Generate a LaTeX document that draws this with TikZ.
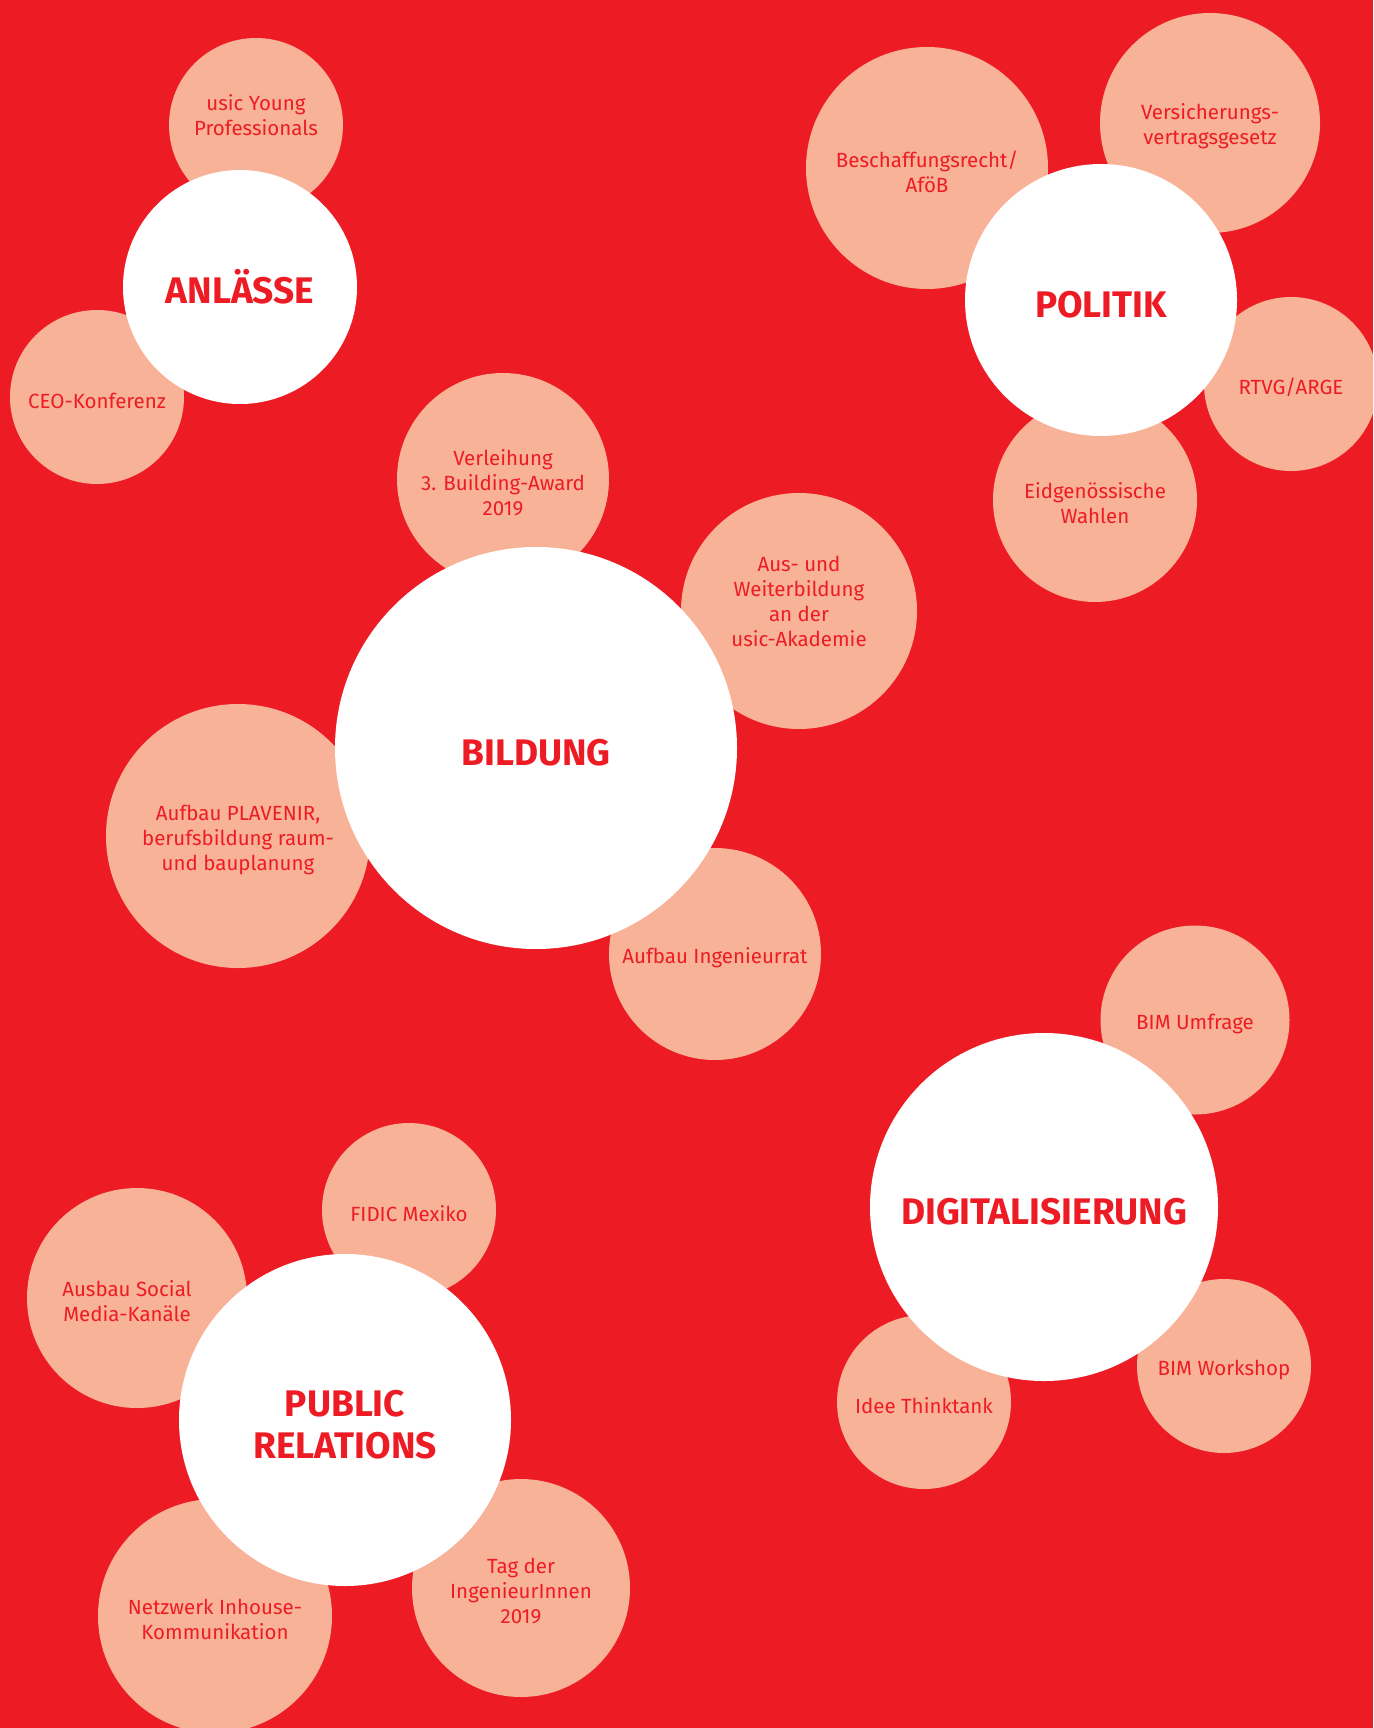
\documentclass[tikz,border=0pt]{standalone}
\usepackage{fontspec}
\setmainfont{Fira Sans}
\usepackage{tikz}
\usetikzlibrary{calc}

\definecolor{usicred}{HTML}{ED1C24}
\definecolor{usicsalmon}{HTML}{F8B298}

\begin{document}
\begin{tikzpicture}[x=1pt, y=-1pt,
        topic_style/.style={circle,fill=white,inner sep=0pt,outer sep=0pt},
        topic_text/.style={text=usicred,align=center,inner sep=0pt,yshift=-5pt,font=\fontsize{37}{42}\selectfont\bfseries},
        item_style/.style={circle,fill=usicsalmon,inner sep=0pt,outer sep=0pt},
        item_text/.style={text=usicred,align=center,inner sep=0pt,yshift=-3.5pt,font=\fontsize{20.5}{25}\selectfont}]

        \useasboundingbox (0,0) rectangle (1373,1728);
        \clip (0,0) rectangle (1373,1728);
        \fill [usicred] (0,0) rectangle (1373,1728);

        % satellites
        \node [item_style, minimum size=174, label={[item_text, yshift=13pt]center:{usic Young\\Professionals}}] (youngpro) at (256,125) {};

        \node [item_style, minimum size=174, label={[item_text]center:{CEO-Konferenz}}] (ceo) at (97,397) {};

        \node [item_style, minimum size=242, label={[item_text]center:{Beschaffungsrecht/\\AföB}}] (afoeb) at (927,168) {};

        \node [item_style, minimum size=220, label={[item_text]center:{Versicherungs-\\vertragsgesetz}}] (vvg) at (1210,123) {};

        \node [item_style, minimum size=174, label={[item_text]center:{RTVG/ARGE}}] (rtvg) at (1291,384) {};

        \node [item_style, minimum size=204, label={[item_text]center:{Eidgenössische\\Wahlen}}] (wahlen) at (1095,500) {};

        \node [item_style, minimum size=212, label={[item_text]center:{Verleihung\\3. Building-Award\\2019}}] (award) at (503,479) {};

        \node [item_style, minimum size=236, label={[item_text, yshift=13.5pt]center:{Aus- und\\Weiterbildung\\an der\\usic-Akademie}}] (akademie) at (799,611) {};

        \node [item_style, minimum size=264, label={[item_text]center:{Aufbau PLAVENIR,\\berufsbildung raum-\\und bauplanung}}] (plavenir) at (238,836) {};

        \node [item_style, minimum size=212, label={[item_text]center:{Aufbau Ingenieurrat}}] (ingrat) at (715,954) {};

        \node [item_style, minimum size=189, label={[item_text]center:{BIM Umfrage}}] (bimumfrage) at (1195,1020) {};

        \node [item_style, minimum size=174, label={[item_text]center:{BIM Workshop}}] (bimworkshop) at (1224,1366) {};

        \node [item_style, minimum size=174, label={[item_text]center:{Idee Thinktank}}] (thinktank) at (924,1402) {};

        \node [item_style, minimum size=174, label={[item_text]center:{FIDIC Mexiko}}] (fidic) at (409,1210) {};

        \node [item_style, minimum size=220, label={[item_text, xshift=-10pt]center:{Ausbau Social\\Media-Kanäle}}] (social) at (137,1298) {};

        \node [item_style, minimum size=234, label={[item_text]center:{Netzwerk Inhouse-\\Kommunikation}}] (inhouse) at (215,1616) {};

        \node [item_style, minimum size=218, label={[item_text]center:{Tag der\\IngenieurInnen\\2019}}] (tag) at (521,1588) {};

        % topics
        \node [topic_style, minimum size=234, label={[topic_text, yshift=5pt]center:{ANLÄSSE}}] (anlaesse) at (240,287) {};

        \node [topic_style, minimum size=272, label={[topic_text]center:{POLITIK}}] (politik) at (1101,300) {};

        \node [topic_style, minimum size=402, label={[topic_text]center:{BILDUNG}}] (bildung) at (536,748) {};

        \node [topic_style, minimum size=348, label={[topic_text]center:{DIGITALISIERUNG}}] (digital) at (1044,1207) {};

        \node [topic_style, minimum size=332, label={[topic_text]center:{PUBLIC\\RELATIONS}}] (pr) at (345,1420) {};

\end{tikzpicture}
\end{document}
